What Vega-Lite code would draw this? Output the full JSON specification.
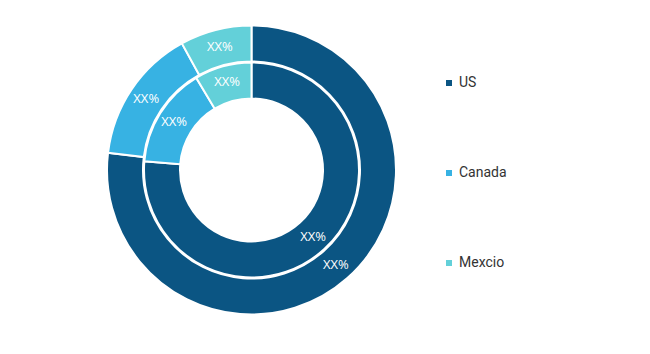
{
  "$schema": "https://vega.github.io/schema/vega-lite/v6.json",
  "width": 503,
  "height": 340,
  "padding": {"left": 0, "top": 0, "right": 0, "bottom": 0},
  "background": "white",
  "config": {"view": {"stroke": null}},
  "data": {
    "values": [
      {"ring": "outer", "country": "US", "value": 76.9, "label": "XX%"},
      {"ring": "outer", "country": "Canada", "value": 15.1, "label": "XX%"},
      {"ring": "outer", "country": "Mexcio", "value": 8.0, "label": "XX%"},
      {"ring": "inner", "country": "US", "value": 76.3, "label": "XX%"},
      {"ring": "inner", "country": "Canada", "value": 15.1, "label": "XX%"},
      {"ring": "inner", "country": "Mexcio", "value": 8.6, "label": "XX%"}
    ]
  },
  "encoding": {
    "theta": {"field": "value", "type": "quantitative", "stack": true},
    "order": {"field": "value", "sort": "descending"},
    "color": {
      "field": "country",
      "type": "nominal",
      "scale": {"domain": ["US", "Canada", "Mexcio"], "range": ["#0b5583", "#37b2e3", "#63d0d9"]},
      "legend": {
        "title": null,
        "orient": "none",
        "legendX": 442,
        "legendY": 76,
        "symbolType": "square",
        "symbolSize": 36,
        "symbolStrokeWidth": 0,
        "labelFont": "Roboto",
        "labelFontSize": 14,
        "labelColor": "#333333",
        "rowPadding": 76,
        "labelOffset": 3
      }
    }
  },
  "layer": [
    {
      "transform": [{"filter": "datum.ring == 'outer'"}],
      "mark": {"type": "arc", "radius": 144.5, "radius2": 108.5, "stroke": "white", "strokeWidth": 2}
    },
    {
      "transform": [{"filter": "datum.ring == 'inner'"}],
      "mark": {"type": "arc", "radius": 107.5, "radius2": 71.5, "stroke": "white", "strokeWidth": 2}
    },
    {
      "transform": [{"filter": "datum.ring == 'outer'"}],
      "mark": {"type": "text", "radius": 127, "font": "Open Sans", "fontSize": 13},
      "encoding": {"text": {"field": "label"}, "color": {"value": "white"}}
    },
    {
      "transform": [{"filter": "datum.ring == 'inner'"}],
      "mark": {"type": "text", "radius": 91, "font": "Open Sans", "fontSize": 13},
      "encoding": {"text": {"field": "label"}, "color": {"value": "white"}}
    }
  ]
}
